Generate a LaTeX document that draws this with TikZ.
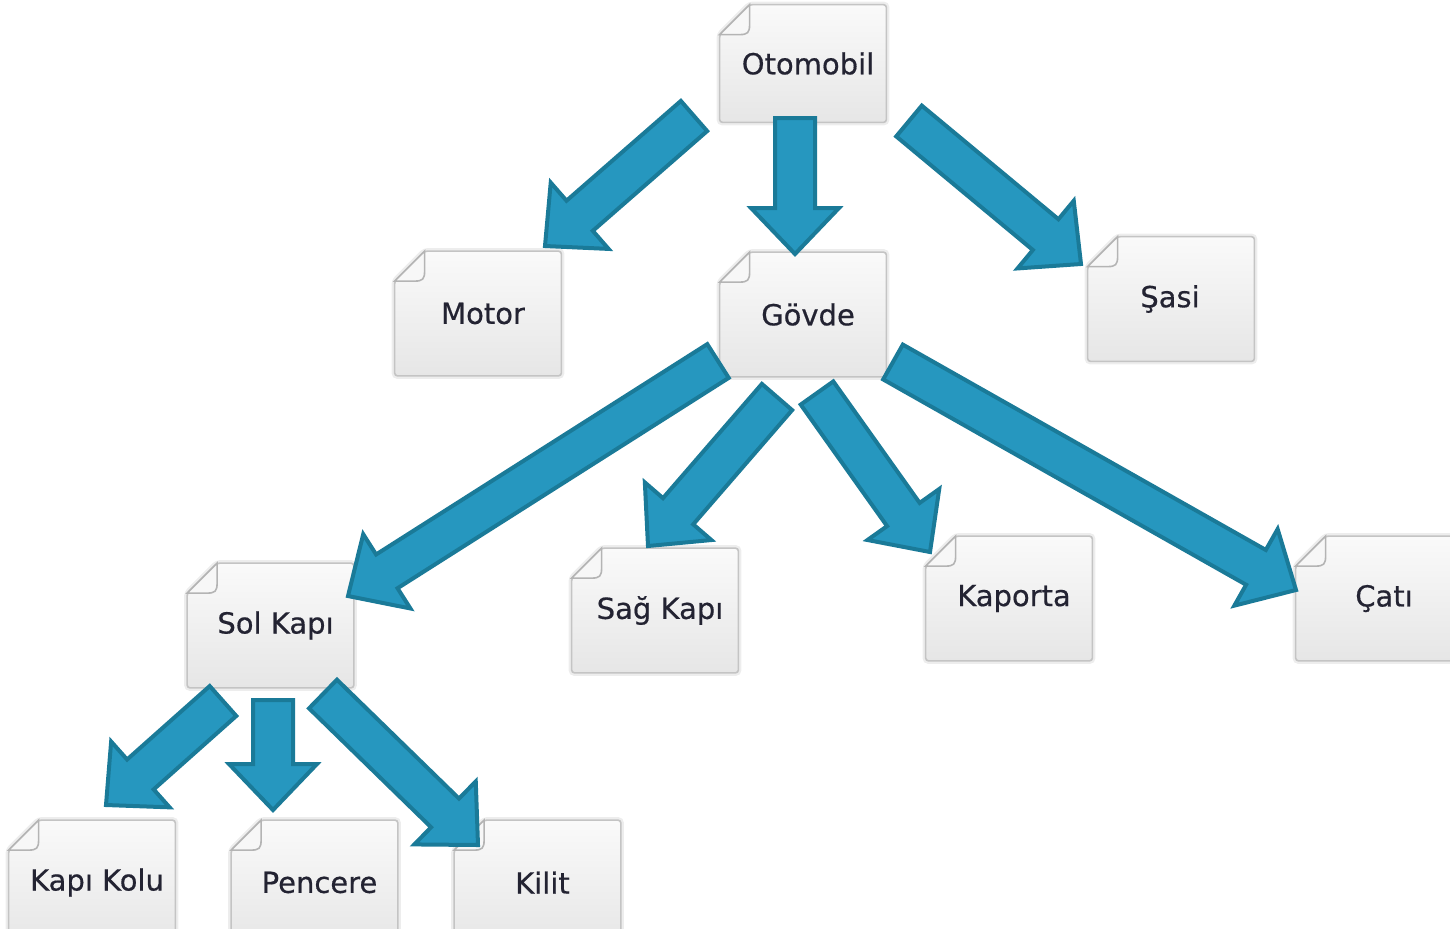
\documentclass[tikz,border=0pt]{standalone}
\usepackage{fontspec}
\setmainfont{DejaVu Sans}
\newfontfamily\boxfont{DejaVu Sans}[FakeBold=0.5]
\usetikzlibrary{calc}
\definecolor{arrfill}{RGB}{38,151,191}
\definecolor{arrline}{RGB}{26,122,152}
\definecolor{boxline}{RGB}{196,196,196}
\definecolor{flapline}{RGB}{180,180,180}
\definecolor{boxtop}{RGB}{250,250,250}
\definecolor{boxbot}{RGB}{230,230,230}
\definecolor{flap}{RGB}{247,247,247}
\definecolor{txt}{RGB}{35,35,50}
\pgfdeclarelayer{background}
\pgfsetlayers{background,main}
\newcommand\blockarrow[2]{%
  \coordinate (ban) at ($(#2)!23pt!(#1)$);
  \draw[blockarr] ($(#1)!10pt!90:(#2)$) -- ($(ban)!10pt!90:(#2)$) -- ($(ban)!22pt!90:(#2)$) -- (#2) -- ($(ban)!22pt!-90:(#2)$) -- ($(ban)!10pt!-90:(#2)$) -- ($(#1)!10pt!-90:(#2)$) -- cycle;}
\tikzset{
  docnode/.style={minimum width=83pt, minimum height=62pt, inner sep=0pt,
    font=\boxfont\fontsize{14.5pt}{17pt}\selectfont, text=txt,
    execute at begin node={\hspace*{5pt}}},
  blockarr/.style={fill=arrfill, draw=arrline, line width=2pt, line join=miter},
  docshadow/.style={draw=black!7, line width=3pt, rounded corners=1.5pt},
  docshape/.style={draw=boxline, line width=0.8pt, top color=boxtop, bottom color=boxbot, rounded corners=1.5pt},
  flapshape/.style={draw=flapline, line width=0.8pt, fill=flap},
}
\begin{document}
\begin{tikzpicture}[x=0.5pt,y=-0.5pt]
\useasboundingbox (0,0) rectangle (1450,928);
\clip (0,0) rectangle (1450,928);
% nodes
\node[docnode, minimum height=58.5pt] (oto) at (803,63.5) {Otomobil};
\node[docnode] (motor) at (478,313.5) {Motor};
\node[docnode] (govde) at (803,314.5) {Gövde};
\node[docnode, execute at begin node={\hspace*{-6pt}}] (sasi) at (1171,299) {Şasi};
\node[docnode] (sol) at (270.5,625.5) {Sol Kapı};
\node[docnode] (sag) at (655,610.5) {Sağ Kapı};
\node[docnode] (kaporta) at (1009,598.5) {Kaporta};
\node[docnode] (cati) at (1379,598.5) {Çatı};
\node[docnode] (kolu) at (92,882.5) {Kapı Kolu};
\node[docnode] (pencere) at (314.5,882.5) {Pencere};
\node[docnode] (kilit) at (537.5,882.5) {Kilit};
% document shapes
\begin{pgfonlayer}{background}
\foreach \nd in {oto,motor,govde,sasi,sol,sag,kaporta,cati,kolu,pencere,kilit}{
  \draw[docshadow] let \p1=(\nd.north west), \p2=(\nd.south east) in
    (\x1+15pt,\y1) -- (\x2,\y1) -- (\x2,\y2) -- (\x1,\y2) -- (\x1,\y1-15pt) -- cycle;
  \draw[docshape] let \p1=(\nd.north west), \p2=(\nd.south east) in
    (\x1+15pt,\y1) -- (\x2,\y1) -- (\x2,\y2) -- (\x1,\y2) -- (\x1,\y1-15pt) -- cycle;
  \draw[flapshape] let \p1=(\nd.north west) in
    (\x1+15pt,\y1) -- (\x1+15pt,\y1-10pt) .. controls (\x1+15pt,\y1-14pt) and (\x1+14pt,\y1-15pt) .. (\x1+10pt,\y1-15pt) -- (\x1,\y1-15pt) -- cycle;
}
\end{pgfonlayer}
% arrow end points
\coordinate (a1s) at (694,116);  \coordinate (a1e) at (545,246);
\coordinate (a2s) at (795,118);  \coordinate (a2e) at (795,254);
\coordinate (a3s) at (909,121);  \coordinate (a3e) at (1081,264);
\coordinate (a4s) at (718,361);  \coordinate (a4e) at (348,596);
\coordinate (a5s) at (777,397);  \coordinate (a5e) at (648,546);
\coordinate (a6s) at (817,393);  \coordinate (a6e) at (930,552);
\coordinate (a7s) at (893,362);  \coordinate (a7e) at (1296,590);
\coordinate (a8s) at (223,701);  \coordinate (a8e) at (106,805);
\coordinate (a9s) at (273,700);  \coordinate (a9e) at (273,810);
\coordinate (a10s) at (323,694); \coordinate (a10e) at (478,845);
\blockarrow{a1s}{a1e}
\blockarrow{a2s}{a2e}
\blockarrow{a3s}{a3e}
\blockarrow{a4s}{a4e}
\blockarrow{a5s}{a5e}
\blockarrow{a6s}{a6e}
\blockarrow{a7s}{a7e}
\blockarrow{a8s}{a8e}
\blockarrow{a9s}{a9e}
\blockarrow{a10s}{a10e}
\end{tikzpicture}
\end{document}
